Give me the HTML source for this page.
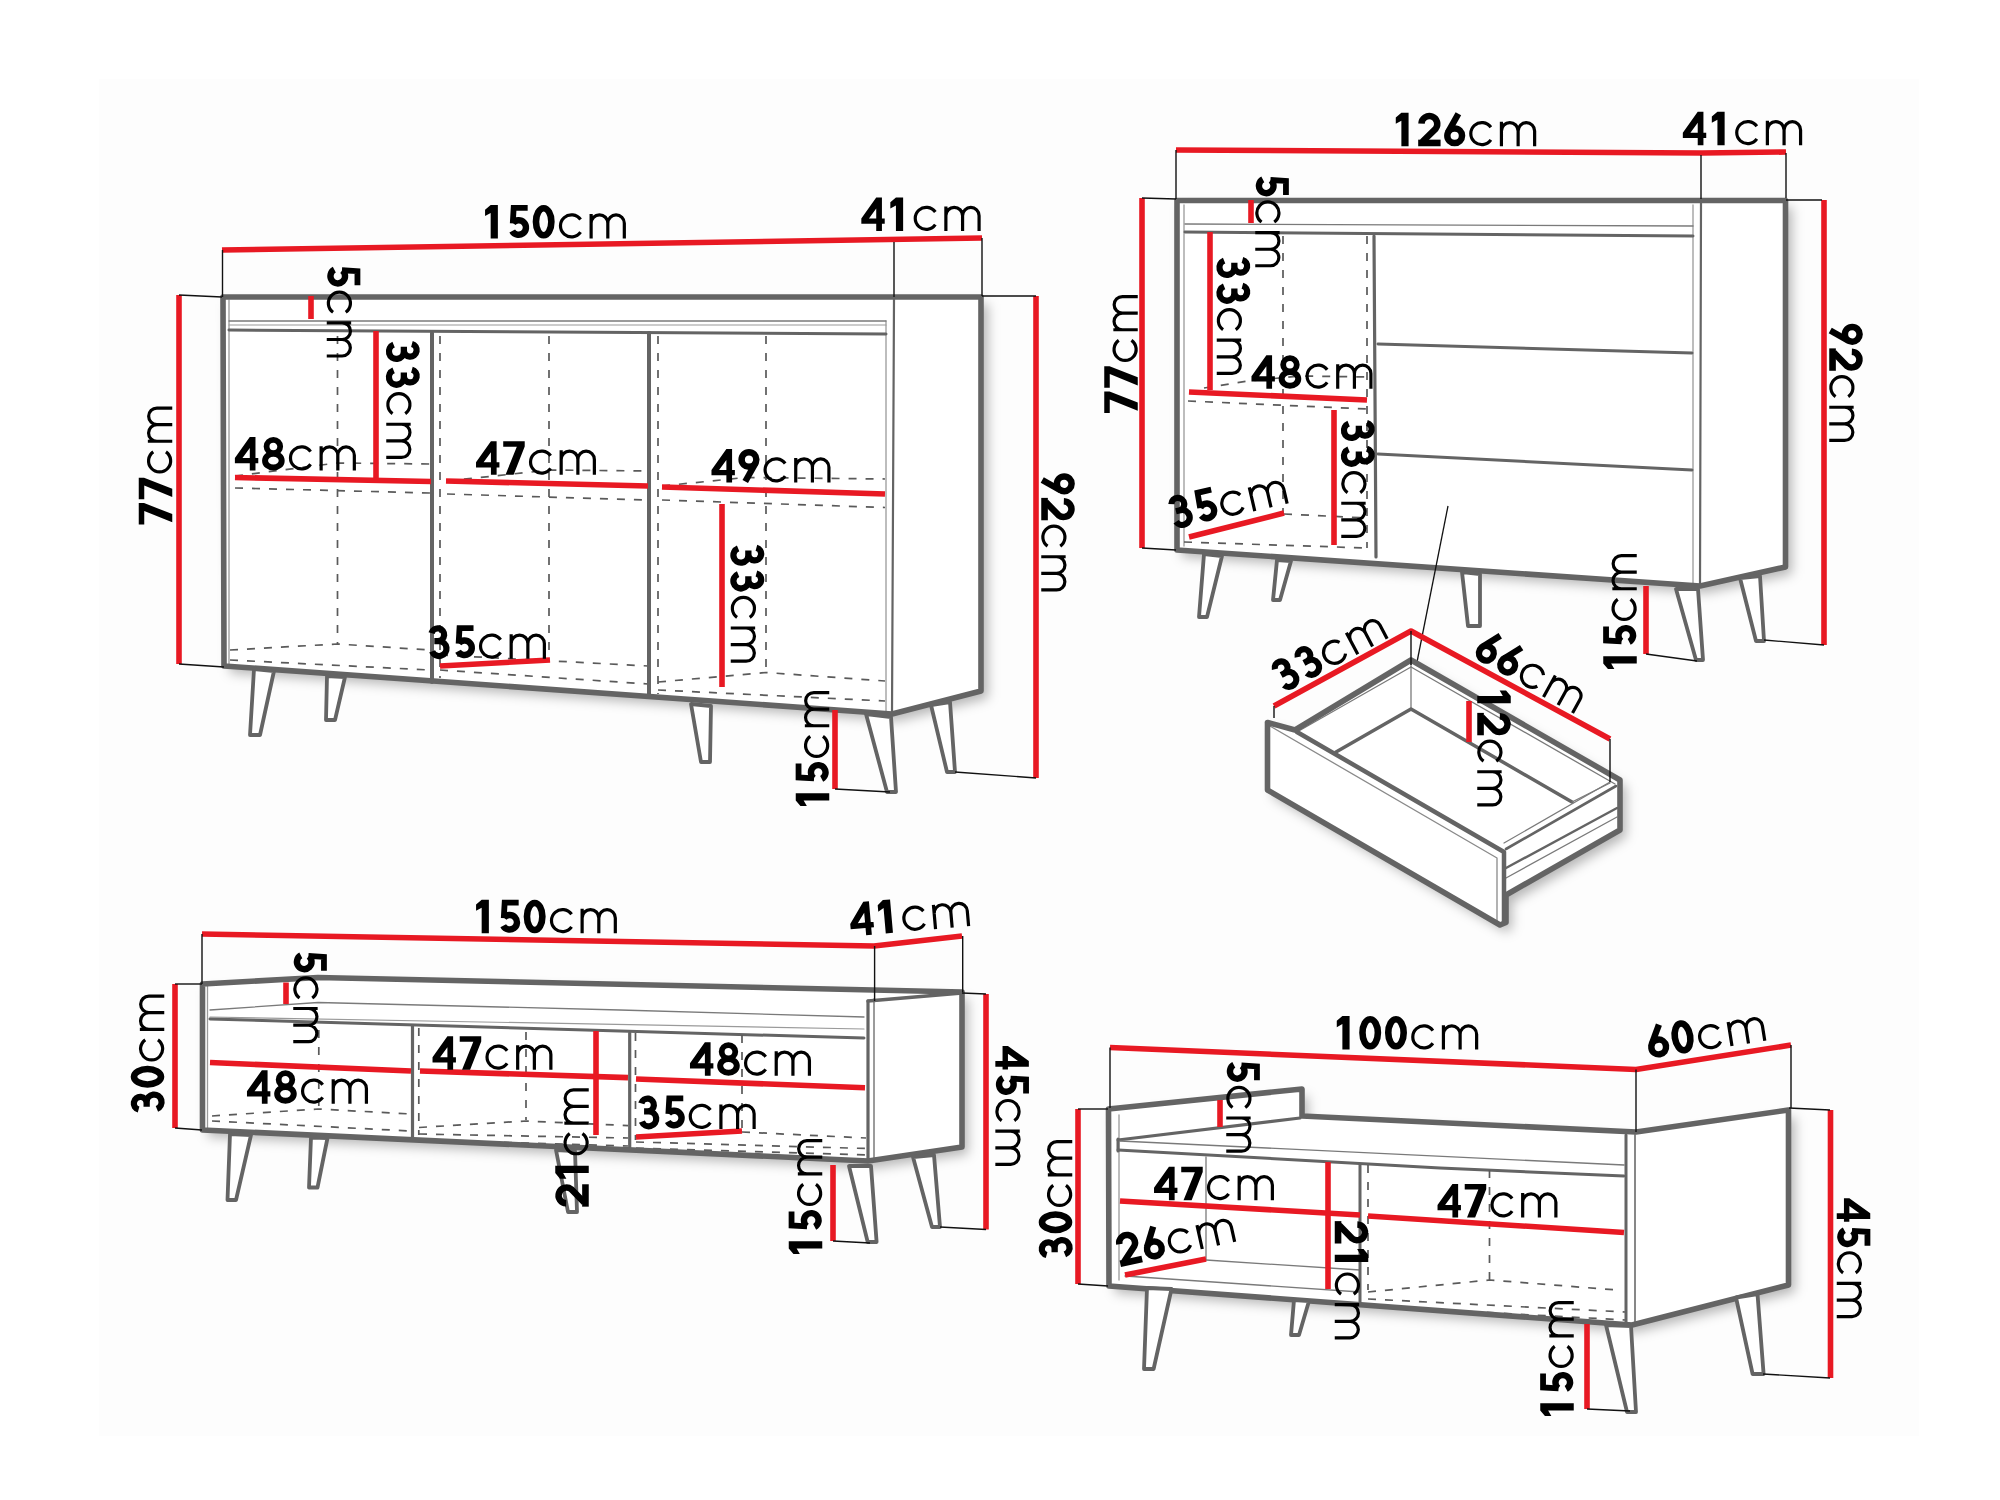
<!DOCTYPE html>
<html><head><meta charset="utf-8"><title>Furniture dimensions</title>
<style>html,body{margin:0;padding:0;background:#fff;width:2000px;height:1500px;overflow:hidden}
svg{display:block;font-family:"Liberation Sans",sans-serif}</style></head>
<body><svg width="2000" height="1500" viewBox="0 0 2000 1500">
<defs><filter id="blur6" x="-10%" y="-10%" width="120%" height="120%"><feGaussianBlur stdDeviation="6"/></filter></defs>
<rect width="2000" height="1500" fill="#fff"/>
<rect x="99" y="79" width="1820" height="1357" fill="#fdfdfd"/>
<polygon points="228.0,304.0 988.0,304.0 988.0,698.0 898.0,721.0 230.0,673.0" fill="#000" fill-opacity="0.28" filter="url(#blur6)"/>
<polygon points="222.0,297.0 982.0,297.0 982.0,691.0 892.0,714.0 224.0,666.0" fill="#fff" stroke="none"/>
<polyline points="229.0,300.0 229.0,666.0" fill="none" stroke="#9a9a9a" stroke-width="1.3" stroke-linecap="round" stroke-linejoin="round"/>
<polyline points="886.0,321.0 886.0,712.0" fill="none" stroke="#9a9a9a" stroke-width="1.3" stroke-linecap="round" stroke-linejoin="round"/>
<polyline points="229.0,321.0 886.0,321.0" fill="none" stroke="#7a7a7a" stroke-width="1.3" stroke-linecap="round" stroke-linejoin="round"/>
<polyline points="229.0,325.0 886.0,325.0" fill="none" stroke="#9a9a9a" stroke-width="1.2" stroke-linecap="round" stroke-linejoin="round"/>
<polyline points="229.0,330.0 886.0,334.0" fill="none" stroke="#646464" stroke-width="3" stroke-linecap="round" stroke-linejoin="round"/>
<polyline points="337.5,336.0 337.5,644.0" fill="none" stroke="#5a5a5a" stroke-width="1.7" stroke-linecap="butt" stroke-linejoin="round" stroke-dasharray="8 9"/>
<polyline points="440.0,336.0 440.0,678.0" fill="none" stroke="#5a5a5a" stroke-width="1.7" stroke-linecap="butt" stroke-linejoin="round" stroke-dasharray="8 9"/>
<polyline points="549.0,336.0 549.0,654.0" fill="none" stroke="#5a5a5a" stroke-width="1.7" stroke-linecap="butt" stroke-linejoin="round" stroke-dasharray="8 9"/>
<polyline points="658.0,336.0 658.0,694.0" fill="none" stroke="#5a5a5a" stroke-width="1.7" stroke-linecap="butt" stroke-linejoin="round" stroke-dasharray="8 9"/>
<polyline points="766.0,336.0 766.0,672.0" fill="none" stroke="#5a5a5a" stroke-width="1.7" stroke-linecap="butt" stroke-linejoin="round" stroke-dasharray="8 9"/>
<polyline points="235.0,488.0 430.0,493.0" fill="none" stroke="#5a5a5a" stroke-width="1.7" stroke-linecap="butt" stroke-linejoin="round" stroke-dasharray="8 9"/>
<polyline points="235.0,476.0 337.0,463.0 430.0,464.0" fill="none" stroke="#5a5a5a" stroke-width="1.7" stroke-linecap="butt" stroke-linejoin="round" stroke-dasharray="8 9"/>
<polyline points="447.0,494.0 648.0,500.0" fill="none" stroke="#5a5a5a" stroke-width="1.7" stroke-linecap="butt" stroke-linejoin="round" stroke-dasharray="8 9"/>
<polyline points="447.0,481.0 550.0,470.0 648.0,471.0" fill="none" stroke="#5a5a5a" stroke-width="1.7" stroke-linecap="butt" stroke-linejoin="round" stroke-dasharray="8 9"/>
<polyline points="662.0,500.0 885.0,507.5" fill="none" stroke="#5a5a5a" stroke-width="1.7" stroke-linecap="butt" stroke-linejoin="round" stroke-dasharray="8 9"/>
<polyline points="662.0,486.0 745.0,477.5 885.0,479.0" fill="none" stroke="#5a5a5a" stroke-width="1.7" stroke-linecap="butt" stroke-linejoin="round" stroke-dasharray="8 9"/>
<polyline points="230.0,650.0 337.5,644.0 430.0,650.0" fill="none" stroke="#5a5a5a" stroke-width="1.7" stroke-linecap="butt" stroke-linejoin="round" stroke-dasharray="8 9"/>
<polyline points="230.0,660.0 430.0,670.0" fill="none" stroke="#5a5a5a" stroke-width="1.7" stroke-linecap="butt" stroke-linejoin="round" stroke-dasharray="8 9"/>
<polyline points="440.0,655.0 648.0,666.0" fill="none" stroke="#5a5a5a" stroke-width="1.7" stroke-linecap="butt" stroke-linejoin="round" stroke-dasharray="8 9"/>
<polyline points="440.0,670.0 648.0,684.0" fill="none" stroke="#5a5a5a" stroke-width="1.7" stroke-linecap="butt" stroke-linejoin="round" stroke-dasharray="8 9"/>
<polyline points="658.0,682.0 766.0,672.5 885.0,681.0" fill="none" stroke="#5a5a5a" stroke-width="1.7" stroke-linecap="butt" stroke-linejoin="round" stroke-dasharray="8 9"/>
<polyline points="658.0,690.0 885.0,701.0" fill="none" stroke="#5a5a5a" stroke-width="1.7" stroke-linecap="butt" stroke-linejoin="round" stroke-dasharray="8 9"/>
<polyline points="432.0,333.0 432.0,682.0" fill="none" stroke="#646464" stroke-width="4" stroke-linecap="round" stroke-linejoin="round"/>
<polyline points="649.0,333.0 649.0,697.0" fill="none" stroke="#646464" stroke-width="4" stroke-linecap="round" stroke-linejoin="round"/>
<polyline points="894.0,299.0 892.0,714.0" fill="none" stroke="#646464" stroke-width="2.2" stroke-linecap="round" stroke-linejoin="round"/>
<polyline points="223.0,297.0 981.0,297.0 981.0,691.0 892.0,714.0 224.0,666.0 223.0,297.0" fill="none" stroke="#646464" stroke-width="5.6" stroke-linecap="round" stroke-linejoin="round"/>
<polyline points="311.0,296.0 311.0,319.0" fill="none" stroke="#e81923" stroke-width="5.6" stroke-linecap="butt" stroke-linejoin="round"/>
<polyline points="376.0,331.0 376.0,478.0" fill="none" stroke="#e81923" stroke-width="5.6" stroke-linecap="butt" stroke-linejoin="round"/>
<polyline points="235.0,477.5 431.0,481.5" fill="none" stroke="#e81923" stroke-width="5.6" stroke-linecap="butt" stroke-linejoin="round"/>
<polyline points="446.0,481.0 648.0,486.0" fill="none" stroke="#e81923" stroke-width="5.6" stroke-linecap="butt" stroke-linejoin="round"/>
<polyline points="662.0,487.0 885.0,494.0" fill="none" stroke="#e81923" stroke-width="5.6" stroke-linecap="butt" stroke-linejoin="round"/>
<polyline points="722.0,504.0 722.0,687.0" fill="none" stroke="#e81923" stroke-width="5.6" stroke-linecap="butt" stroke-linejoin="round"/>
<polyline points="440.0,666.0 550.0,660.0" fill="none" stroke="#e81923" stroke-width="5.6" stroke-linecap="butt" stroke-linejoin="round"/>
<polygon points="254.0,669.0 274.0,671.0 260.0,735.0 250.0,735.0" fill="#fff" stroke="#646464" stroke-width="3.8" stroke-linejoin="round"/>
<polygon points="327.0,676.0 345.0,677.0 335.0,720.0 326.0,720.0" fill="#fff" stroke="#646464" stroke-width="3.8" stroke-linejoin="round"/>
<polygon points="691.0,704.0 711.0,706.0 710.0,762.0 701.0,762.0" fill="#fff" stroke="#646464" stroke-width="3.8" stroke-linejoin="round"/>
<polygon points="866.0,714.0 891.0,717.0 896.0,792.0 887.0,792.0" fill="#fff" stroke="#646464" stroke-width="3.8" stroke-linejoin="round"/>
<polygon points="931.0,705.0 950.0,702.0 955.0,772.0 947.0,772.0" fill="#fff" stroke="#646464" stroke-width="3.8" stroke-linejoin="round"/>
<polyline points="222.0,250.0 982.0,238.0" fill="none" stroke="#e81923" stroke-width="5.6" stroke-linecap="butt" stroke-linejoin="round"/>
<polyline points="222.5,250.0 222.5,297.0" fill="none" stroke="#111" stroke-width="1.4" stroke-linecap="butt" stroke-linejoin="round"/>
<polyline points="894.0,242.0 894.0,297.0" fill="none" stroke="#111" stroke-width="1.4" stroke-linecap="butt" stroke-linejoin="round"/>
<polyline points="982.0,238.0 982.0,296.0" fill="none" stroke="#111" stroke-width="1.4" stroke-linecap="butt" stroke-linejoin="round"/>
<polyline points="179.0,295.0 179.0,664.0" fill="none" stroke="#e81923" stroke-width="5.6" stroke-linecap="butt" stroke-linejoin="round"/>
<polyline points="179.0,295.0 222.0,297.0" fill="none" stroke="#111" stroke-width="1.4" stroke-linecap="butt" stroke-linejoin="round"/>
<polyline points="179.0,664.0 224.0,667.0" fill="none" stroke="#111" stroke-width="1.4" stroke-linecap="butt" stroke-linejoin="round"/>
<polyline points="1036.0,296.0 1036.0,778.0" fill="none" stroke="#e81923" stroke-width="5.6" stroke-linecap="butt" stroke-linejoin="round"/>
<polyline points="982.0,296.0 1036.0,296.0" fill="none" stroke="#111" stroke-width="1.4" stroke-linecap="butt" stroke-linejoin="round"/>
<polyline points="955.0,772.0 1036.0,778.0" fill="none" stroke="#111" stroke-width="1.4" stroke-linecap="butt" stroke-linejoin="round"/>
<polyline points="835.0,710.0 835.0,789.0" fill="none" stroke="#e81923" stroke-width="5.6" stroke-linecap="butt" stroke-linejoin="round"/>
<polyline points="835.0,789.0 890.0,792.0" fill="none" stroke="#111" stroke-width="1.4" stroke-linecap="butt" stroke-linejoin="round"/>
<g role="img" aria-label="150 cm" transform="translate(485.07 238.50) rotate(0)"><title>150cm</title><path transform="translate(0.00 0)" d="M0,-28.8 L5.6,-33.5 H12.8 V0 H5.6 V-25.6 L0,-22.4 Z" fill="#000" fill-rule="evenodd"/><path transform="translate(22.40 0)" d="M20.2,-30.7 H6.2 L5.3,-15.2" fill="none" stroke="#000" stroke-width="5.8"/><path transform="translate(22.40 0)" d="M5.45,-15.49 A7.3,7.3 0 1 1 4.75,-7.57" fill="none" stroke="#000" stroke-width="6.4"/><path transform="translate(47.60 0)" d="M11,-3.25 A7.7,13.5 0 1 1 11,-30.25 A7.7,13.5 0 1 1 11,-3.25 Z" fill="none" stroke="#000" stroke-width="6.6"/><path transform="translate(73.80 0)" d="M21.70,-18.99 A11.05,11.05 0 1 0 21.70,-6.31 M32.25,0 V-24.4 M32.25,-15.35 A8.35,8.35 0 0 1 48.95,-15.35 V0 M48.95,-15.35 A8.25,8.25 0 0 1 65.45,-15.35 V0" fill="none" stroke="#000" stroke-width="3.2"/></g>
<g role="img" aria-label="41 cm" transform="translate(861.33 231.00) rotate(0)"><title>41cm</title><path transform="translate(0.00 0)" d="M14.9,-33.5 H20.6 V-12.6 H23.4 V-7.2 H20.6 V0 H14.9 V-7.2 H0 V-12.6 Z M14.9,-22.6 L7.6,-12.6 H14.9 Z" fill="#000" fill-rule="evenodd"/><path transform="translate(29.00 0)" d="M0,-28.8 L5.6,-33.5 H12.8 V0 H5.6 V-25.6 L0,-22.4 Z" fill="#000" fill-rule="evenodd"/><path transform="translate(52.30 0)" d="M21.70,-18.99 A11.05,11.05 0 1 0 21.70,-6.31 M32.25,0 V-24.4 M32.25,-15.35 A8.35,8.35 0 0 1 48.95,-15.35 V0 M48.95,-15.35 A8.25,8.25 0 0 1 65.45,-15.35 V0" fill="none" stroke="#000" stroke-width="3.2"/></g>
<g role="img" aria-label="5 cm" transform="translate(326.75 264.93) rotate(90)"><title>5cm</title><path transform="translate(0.00 0)" d="M20.2,-30.7 H6.2 L5.3,-15.2" fill="none" stroke="#000" stroke-width="5.8"/><path transform="translate(0.00 0)" d="M5.45,-15.49 A7.3,7.3 0 1 1 4.75,-7.57" fill="none" stroke="#000" stroke-width="6.4"/><path transform="translate(25.60 0)" d="M21.70,-18.99 A11.05,11.05 0 1 0 21.70,-6.31 M32.25,0 V-24.4 M32.25,-15.35 A8.35,8.35 0 0 1 48.95,-15.35 V0 M48.95,-15.35 A8.25,8.25 0 0 1 65.45,-15.35 V0" fill="none" stroke="#000" stroke-width="3.2"/></g>
<g role="img" aria-label="33 cm" transform="translate(386.25 339.98) rotate(90)"><title>33cm</title><path transform="translate(0.00 0)" d="M4.02,-25.66 A6.4,6.4 0 1 1 10.20,-17.60 H6.8 M10.20,-17.60 H11.5 A7.45,7.45 0 1 1 4.59,-7.36" fill="none" stroke="#000" stroke-width="6.3"/><path transform="translate(25.80 0)" d="M4.02,-25.66 A6.4,6.4 0 1 1 10.20,-17.60 H6.8 M10.20,-17.60 H11.5 A7.45,7.45 0 1 1 4.59,-7.36" fill="none" stroke="#000" stroke-width="6.3"/><path transform="translate(52.00 0)" d="M21.70,-18.99 A11.05,11.05 0 1 0 21.70,-6.31 M32.25,0 V-24.4 M32.25,-15.35 A8.35,8.35 0 0 1 48.95,-15.35 V0 M48.95,-15.35 A8.25,8.25 0 0 1 65.45,-15.35 V0" fill="none" stroke="#000" stroke-width="3.2"/></g>
<g role="img" aria-label="48 cm" transform="translate(234.88 470.55) rotate(0)"><title>48cm</title><path transform="translate(0.00 0)" d="M14.9,-33.5 H20.6 V-12.6 H23.4 V-7.2 H20.6 V0 H14.9 V-7.2 H0 V-12.6 Z M14.9,-22.6 L7.6,-12.6 H14.9 Z" fill="#000" fill-rule="evenodd"/><path transform="translate(27.20 0)" d="M11.3,-30.6 A6.8,6.6 0 1 1 11.3,-17.4 A6.8,6.6 0 1 1 11.3,-30.6 Z" fill="none" stroke="#000" stroke-width="5.8"/><path transform="translate(27.20 0)" d="M11.3,-16.8 A8.3,6.9 0 1 1 11.3,-3.0 A8.3,6.9 0 1 1 11.3,-16.8 Z" fill="none" stroke="#000" stroke-width="6.0"/><path transform="translate(54.00 0)" d="M21.70,-18.99 A11.05,11.05 0 1 0 21.70,-6.31 M32.25,0 V-24.4 M32.25,-15.35 A8.35,8.35 0 0 1 48.95,-15.35 V0 M48.95,-15.35 A8.25,8.25 0 0 1 65.45,-15.35 V0" fill="none" stroke="#000" stroke-width="3.2"/></g>
<g role="img" aria-label="47 cm" transform="translate(476.02 474.75) rotate(0)"><title>47cm</title><path transform="translate(0.00 0)" d="M14.9,-33.5 H20.6 V-12.6 H23.4 V-7.2 H20.6 V0 H14.9 V-7.2 H0 V-12.6 Z M14.9,-22.6 L7.6,-12.6 H14.9 Z" fill="#000" fill-rule="evenodd"/><path transform="translate(27.20 0)" d="M0,-33.5 H21.5 V-28.2 L10.4,0 H2.3 L13.6,-28.0 H0 Z" fill="#000" fill-rule="evenodd"/><path transform="translate(52.90 0)" d="M21.70,-18.99 A11.05,11.05 0 1 0 21.70,-6.31 M32.25,0 V-24.4 M32.25,-15.35 A8.35,8.35 0 0 1 48.95,-15.35 V0 M48.95,-15.35 A8.25,8.25 0 0 1 65.45,-15.35 V0" fill="none" stroke="#000" stroke-width="3.2"/></g>
<g role="img" aria-label="49 cm" transform="translate(711.48 482.50) rotate(0)"><title>49cm</title><path transform="translate(0.00 0)" d="M14.9,-33.5 H20.6 V-12.6 H23.4 V-7.2 H20.6 V0 H14.9 V-7.2 H0 V-12.6 Z M14.9,-22.6 L7.6,-12.6 H14.9 Z" fill="#000" fill-rule="evenodd"/><path transform="translate(27.20 0)" d="M10.3,-30.35 A7.35,7.35 0 1 1 10.3,-15.65 A7.35,7.35 0 1 1 10.3,-30.35 Z" fill="none" stroke="#000" stroke-width="6.5"/><path transform="translate(27.20 0)" d="M17.0,-19.6 L6.6,-1.0" fill="none" stroke="#000" stroke-width="6.3"/><path transform="translate(52.00 0)" d="M21.70,-18.99 A11.05,11.05 0 1 0 21.70,-6.31 M32.25,0 V-24.4 M32.25,-15.35 A8.35,8.35 0 0 1 48.95,-15.35 V0 M48.95,-15.35 A8.25,8.25 0 0 1 65.45,-15.35 V0" fill="none" stroke="#000" stroke-width="3.2"/></g>
<g role="img" aria-label="35 cm" transform="translate(427.52 658.75) rotate(0)"><title>35cm</title><path transform="translate(0.00 0)" d="M4.02,-25.66 A6.4,6.4 0 1 1 10.20,-17.60 H6.8 M10.20,-17.60 H11.5 A7.45,7.45 0 1 1 4.59,-7.36" fill="none" stroke="#000" stroke-width="6.3"/><path transform="translate(25.80 0)" d="M20.2,-30.7 H6.2 L5.3,-15.2" fill="none" stroke="#000" stroke-width="5.8"/><path transform="translate(25.80 0)" d="M5.45,-15.49 A7.3,7.3 0 1 1 4.75,-7.57" fill="none" stroke="#000" stroke-width="6.4"/><path transform="translate(51.40 0)" d="M21.70,-18.99 A11.05,11.05 0 1 0 21.70,-6.31 M32.25,0 V-24.4 M32.25,-15.35 A8.35,8.35 0 0 1 48.95,-15.35 V0 M48.95,-15.35 A8.25,8.25 0 0 1 65.45,-15.35 V0" fill="none" stroke="#000" stroke-width="3.2"/></g>
<g role="img" aria-label="33 cm" transform="translate(730.75 543.73) rotate(90)"><title>33cm</title><path transform="translate(0.00 0)" d="M4.02,-25.66 A6.4,6.4 0 1 1 10.20,-17.60 H6.8 M10.20,-17.60 H11.5 A7.45,7.45 0 1 1 4.59,-7.36" fill="none" stroke="#000" stroke-width="6.3"/><path transform="translate(25.80 0)" d="M4.02,-25.66 A6.4,6.4 0 1 1 10.20,-17.60 H6.8 M10.20,-17.60 H11.5 A7.45,7.45 0 1 1 4.59,-7.36" fill="none" stroke="#000" stroke-width="6.3"/><path transform="translate(52.00 0)" d="M21.70,-18.99 A11.05,11.05 0 1 0 21.70,-6.31 M32.25,0 V-24.4 M32.25,-15.35 A8.35,8.35 0 0 1 48.95,-15.35 V0 M48.95,-15.35 A8.25,8.25 0 0 1 65.45,-15.35 V0" fill="none" stroke="#000" stroke-width="3.2"/></g>
<g role="img" aria-label="92 cm" transform="translate(1041.25 473.48) rotate(90)"><title>92cm</title><path transform="translate(0.00 0)" d="M10.3,-30.35 A7.35,7.35 0 1 1 10.3,-15.65 A7.35,7.35 0 1 1 10.3,-30.35 Z" fill="none" stroke="#000" stroke-width="6.5"/><path transform="translate(0.00 0)" d="M17.0,-19.6 L6.6,-1.0" fill="none" stroke="#000" stroke-width="6.3"/><path transform="translate(24.40 0)" d="M3.30,-22.58 A7.9,7.9 0 1 1 17.43,-17.44 L4.2,-4.5" fill="none" stroke="#000" stroke-width="6.5"/><path transform="translate(24.40 0)" d="M0,-6.6 H22.4 V0 H0 Z" fill="#000" fill-rule="evenodd"/><path transform="translate(51.00 0)" d="M21.70,-18.99 A11.05,11.05 0 1 0 21.70,-6.31 M32.25,0 V-24.4 M32.25,-15.35 A8.35,8.35 0 0 1 48.95,-15.35 V0 M48.95,-15.35 A8.25,8.25 0 0 1 65.45,-15.35 V0" fill="none" stroke="#000" stroke-width="3.2"/></g>
<g role="img" aria-label="15 cm" transform="translate(829.25 806.02) rotate(-90)"><title>15cm</title><path transform="translate(0.00 0)" d="M0,-28.8 L5.6,-33.5 H12.8 V0 H5.6 V-25.6 L0,-22.4 Z" fill="#000" fill-rule="evenodd"/><path transform="translate(22.40 0)" d="M20.2,-30.7 H6.2 L5.3,-15.2" fill="none" stroke="#000" stroke-width="5.8"/><path transform="translate(22.40 0)" d="M5.45,-15.49 A7.3,7.3 0 1 1 4.75,-7.57" fill="none" stroke="#000" stroke-width="6.4"/><path transform="translate(48.00 0)" d="M21.70,-18.99 A11.05,11.05 0 1 0 21.70,-6.31 M32.25,0 V-24.4 M32.25,-15.35 A8.35,8.35 0 0 1 48.95,-15.35 V0 M48.95,-15.35 A8.25,8.25 0 0 1 65.45,-15.35 V0" fill="none" stroke="#000" stroke-width="3.2"/></g>
<g role="img" aria-label="77 cm" transform="translate(172.25 524.52) rotate(-90)"><title>77cm</title><path transform="translate(0.00 0)" d="M0,-33.5 H21.5 V-28.2 L10.4,0 H2.3 L13.6,-28.0 H0 Z" fill="#000" fill-rule="evenodd"/><path transform="translate(25.30 0)" d="M0,-33.5 H21.5 V-28.2 L10.4,0 H2.3 L13.6,-28.0 H0 Z" fill="#000" fill-rule="evenodd"/><path transform="translate(51.00 0)" d="M21.70,-18.99 A11.05,11.05 0 1 0 21.70,-6.31 M32.25,0 V-24.4 M32.25,-15.35 A8.35,8.35 0 0 1 48.95,-15.35 V0 M48.95,-15.35 A8.25,8.25 0 0 1 65.45,-15.35 V0" fill="none" stroke="#000" stroke-width="3.2"/></g>
<polygon points="1182.0,207.0 1792.0,207.0 1792.0,574.0 1706.0,593.0 1182.0,557.0" fill="#000" fill-opacity="0.28" filter="url(#blur6)"/>
<polygon points="1176.0,200.0 1786.0,200.0 1786.0,567.0 1700.0,586.0 1176.0,550.0" fill="#fff" stroke="none"/>
<polyline points="1693.0,205.0 1693.0,585.0" fill="none" stroke="#9a9a9a" stroke-width="1.3" stroke-linecap="round" stroke-linejoin="round"/>
<polyline points="1184.0,205.0 1184.0,546.0" fill="none" stroke="#9a9a9a" stroke-width="1.3" stroke-linecap="round" stroke-linejoin="round"/>
<polyline points="1185.0,224.0 1693.0,226.0" fill="none" stroke="#7a7a7a" stroke-width="1.4" stroke-linecap="round" stroke-linejoin="round"/>
<polyline points="1185.0,232.0 1693.0,236.0" fill="none" stroke="#646464" stroke-width="3" stroke-linecap="round" stroke-linejoin="round"/>
<polyline points="1283.0,236.0 1283.0,514.0" fill="none" stroke="#5a5a5a" stroke-width="1.7" stroke-linecap="butt" stroke-linejoin="round" stroke-dasharray="8 9"/>
<polyline points="1367.0,236.0 1367.0,548.0" fill="none" stroke="#5a5a5a" stroke-width="1.7" stroke-linecap="butt" stroke-linejoin="round" stroke-dasharray="8 9"/>
<polyline points="1188.0,401.0 1367.0,409.0" fill="none" stroke="#5a5a5a" stroke-width="1.7" stroke-linecap="butt" stroke-linejoin="round" stroke-dasharray="8 9"/>
<polyline points="1204.0,388.0 1248.0,381.0 1300.0,376.0 1367.0,377.0" fill="none" stroke="#5a5a5a" stroke-width="1.7" stroke-linecap="butt" stroke-linejoin="round" stroke-dasharray="8 9"/>
<polyline points="1284.0,514.0 1367.0,518.0" fill="none" stroke="#5a5a5a" stroke-width="1.7" stroke-linecap="butt" stroke-linejoin="round" stroke-dasharray="8 9"/>
<polyline points="1184.0,542.0 1367.0,548.0" fill="none" stroke="#5a5a5a" stroke-width="1.7" stroke-linecap="butt" stroke-linejoin="round" stroke-dasharray="8 9"/>
<polyline points="1374.0,236.0 1376.0,557.0" fill="none" stroke="#646464" stroke-width="3.2" stroke-linecap="round" stroke-linejoin="round"/>
<polyline points="1378.0,344.0 1692.0,353.0" fill="none" stroke="#646464" stroke-width="3" stroke-linecap="round" stroke-linejoin="round"/>
<polyline points="1378.0,454.0 1692.0,470.0" fill="none" stroke="#646464" stroke-width="3" stroke-linecap="round" stroke-linejoin="round"/>
<polyline points="1701.0,203.0 1700.0,586.0" fill="none" stroke="#646464" stroke-width="2.2" stroke-linecap="round" stroke-linejoin="round"/>
<polyline points="1177.0,200.5 1785.5,200.5 1785.5,567.0 1700.0,586.0 1177.0,550.0 1177.0,200.5" fill="none" stroke="#646464" stroke-width="5.6" stroke-linecap="round" stroke-linejoin="round"/>
<polyline points="1251.0,200.0 1251.0,223.0" fill="none" stroke="#e81923" stroke-width="5.6" stroke-linecap="butt" stroke-linejoin="round"/>
<polyline points="1210.0,232.0 1210.0,390.0" fill="none" stroke="#e81923" stroke-width="5.6" stroke-linecap="butt" stroke-linejoin="round"/>
<polyline points="1189.0,392.0 1367.0,400.0" fill="none" stroke="#e81923" stroke-width="5.6" stroke-linecap="butt" stroke-linejoin="round"/>
<polyline points="1334.0,410.0 1334.0,545.0" fill="none" stroke="#e81923" stroke-width="5.6" stroke-linecap="butt" stroke-linejoin="round"/>
<polyline points="1189.0,537.0 1284.0,513.0" fill="none" stroke="#e81923" stroke-width="5.6" stroke-linecap="butt" stroke-linejoin="round"/>
<polygon points="1204.0,554.0 1222.0,556.0 1207.0,617.0 1199.0,617.0" fill="#fff" stroke="#646464" stroke-width="3.8" stroke-linejoin="round"/>
<polygon points="1277.0,560.0 1291.0,561.0 1280.0,600.0 1273.0,600.0" fill="#fff" stroke="#646464" stroke-width="3.8" stroke-linejoin="round"/>
<polygon points="1462.0,572.0 1480.0,574.0 1480.0,626.0 1468.0,626.0" fill="#fff" stroke="#646464" stroke-width="3.8" stroke-linejoin="round"/>
<polygon points="1676.0,589.0 1698.0,589.0 1703.0,660.0 1696.0,660.0" fill="#fff" stroke="#646464" stroke-width="3.8" stroke-linejoin="round"/>
<polygon points="1740.0,578.0 1760.0,576.0 1764.0,641.0 1756.0,641.0" fill="#fff" stroke="#646464" stroke-width="3.8" stroke-linejoin="round"/>
<polyline points="1176.0,150.0 1702.0,153.0 1786.0,152.0" fill="none" stroke="#e81923" stroke-width="5.6" stroke-linecap="butt" stroke-linejoin="round"/>
<polyline points="1176.0,150.0 1176.0,199.0" fill="none" stroke="#111" stroke-width="1.4" stroke-linecap="butt" stroke-linejoin="round"/>
<polyline points="1701.0,155.0 1701.0,199.0" fill="none" stroke="#111" stroke-width="1.4" stroke-linecap="butt" stroke-linejoin="round"/>
<polyline points="1786.0,153.0 1786.0,198.0" fill="none" stroke="#111" stroke-width="1.4" stroke-linecap="butt" stroke-linejoin="round"/>
<polyline points="1142.0,198.0 1142.0,548.0" fill="none" stroke="#e81923" stroke-width="5.6" stroke-linecap="butt" stroke-linejoin="round"/>
<polyline points="1142.0,198.0 1176.0,199.0" fill="none" stroke="#111" stroke-width="1.4" stroke-linecap="butt" stroke-linejoin="round"/>
<polyline points="1142.0,548.0 1176.0,550.0" fill="none" stroke="#111" stroke-width="1.4" stroke-linecap="butt" stroke-linejoin="round"/>
<polyline points="1824.0,200.0 1824.0,645.0" fill="none" stroke="#e81923" stroke-width="5.6" stroke-linecap="butt" stroke-linejoin="round"/>
<polyline points="1786.0,200.0 1822.0,200.0" fill="none" stroke="#111" stroke-width="1.4" stroke-linecap="butt" stroke-linejoin="round"/>
<polyline points="1764.0,640.0 1824.0,645.0" fill="none" stroke="#111" stroke-width="1.4" stroke-linecap="butt" stroke-linejoin="round"/>
<polyline points="1646.0,586.0 1646.0,654.0" fill="none" stroke="#e81923" stroke-width="5.6" stroke-linecap="butt" stroke-linejoin="round"/>
<polyline points="1646.0,654.0 1697.0,661.0" fill="none" stroke="#111" stroke-width="1.4" stroke-linecap="butt" stroke-linejoin="round"/>
<polyline points="1448.0,506.0 1417.0,662.0" fill="none" stroke="#111" stroke-width="1.3" stroke-linecap="butt" stroke-linejoin="round"/>
<g role="img" aria-label="126 cm" transform="translate(1395.78 146.25) rotate(0)"><title>126cm</title><path transform="translate(0.00 0)" d="M0,-28.8 L5.6,-33.5 H12.8 V0 H5.6 V-25.6 L0,-22.4 Z" fill="#000" fill-rule="evenodd"/><path transform="translate(22.40 0)" d="M3.30,-22.58 A7.9,7.9 0 1 1 17.43,-17.44 L4.2,-4.5" fill="none" stroke="#000" stroke-width="6.5"/><path transform="translate(22.40 0)" d="M0,-6.6 H22.4 V0 H0 Z" fill="#000" fill-rule="evenodd"/><path transform="translate(48.60 0)" d="M10.3,-3.15 A7.35,7.35 0 1 1 10.3,-17.85 A7.35,7.35 0 1 1 10.3,-3.15 Z" fill="none" stroke="#000" stroke-width="6.5"/><path transform="translate(48.60 0)" d="M3.6,-13.9 L14.0,-32.5" fill="none" stroke="#000" stroke-width="6.3"/><path transform="translate(73.40 0)" d="M21.70,-18.99 A11.05,11.05 0 1 0 21.70,-6.31 M32.25,0 V-24.4 M32.25,-15.35 A8.35,8.35 0 0 1 48.95,-15.35 V0 M48.95,-15.35 A8.25,8.25 0 0 1 65.45,-15.35 V0" fill="none" stroke="#000" stroke-width="3.2"/></g>
<g role="img" aria-label="41 cm" transform="translate(1682.83 145.25) rotate(0)"><title>41cm</title><path transform="translate(0.00 0)" d="M14.9,-33.5 H20.6 V-12.6 H23.4 V-7.2 H20.6 V0 H14.9 V-7.2 H0 V-12.6 Z M14.9,-22.6 L7.6,-12.6 H14.9 Z" fill="#000" fill-rule="evenodd"/><path transform="translate(29.00 0)" d="M0,-28.8 L5.6,-33.5 H12.8 V0 H5.6 V-25.6 L0,-22.4 Z" fill="#000" fill-rule="evenodd"/><path transform="translate(52.30 0)" d="M21.70,-18.99 A11.05,11.05 0 1 0 21.70,-6.31 M32.25,0 V-24.4 M32.25,-15.35 A8.35,8.35 0 0 1 48.95,-15.35 V0 M48.95,-15.35 A8.25,8.25 0 0 1 65.45,-15.35 V0" fill="none" stroke="#000" stroke-width="3.2"/></g>
<g role="img" aria-label="5 cm" transform="translate(1255.25 174.68) rotate(90)"><title>5cm</title><path transform="translate(0.00 0)" d="M20.2,-30.7 H6.2 L5.3,-15.2" fill="none" stroke="#000" stroke-width="5.8"/><path transform="translate(0.00 0)" d="M5.45,-15.49 A7.3,7.3 0 1 1 4.75,-7.57" fill="none" stroke="#000" stroke-width="6.4"/><path transform="translate(25.60 0)" d="M21.70,-18.99 A11.05,11.05 0 1 0 21.70,-6.31 M32.25,0 V-24.4 M32.25,-15.35 A8.35,8.35 0 0 1 48.95,-15.35 V0 M48.95,-15.35 A8.25,8.25 0 0 1 65.45,-15.35 V0" fill="none" stroke="#000" stroke-width="3.2"/></g>
<g role="img" aria-label="33 cm" transform="translate(1216.75 255.97) rotate(90)"><title>33cm</title><path transform="translate(0.00 0)" d="M4.02,-25.66 A6.4,6.4 0 1 1 10.20,-17.60 H6.8 M10.20,-17.60 H11.5 A7.45,7.45 0 1 1 4.59,-7.36" fill="none" stroke="#000" stroke-width="6.3"/><path transform="translate(25.80 0)" d="M4.02,-25.66 A6.4,6.4 0 1 1 10.20,-17.60 H6.8 M10.20,-17.60 H11.5 A7.45,7.45 0 1 1 4.59,-7.36" fill="none" stroke="#000" stroke-width="6.3"/><path transform="translate(52.00 0)" d="M21.70,-18.99 A11.05,11.05 0 1 0 21.70,-6.31 M32.25,0 V-24.4 M32.25,-15.35 A8.35,8.35 0 0 1 48.95,-15.35 V0 M48.95,-15.35 A8.25,8.25 0 0 1 65.45,-15.35 V0" fill="none" stroke="#000" stroke-width="3.2"/></g>
<g role="img" aria-label="48 cm" transform="translate(1251.47 388.75) rotate(0)"><title>48cm</title><path transform="translate(0.00 0)" d="M14.9,-33.5 H20.6 V-12.6 H23.4 V-7.2 H20.6 V0 H14.9 V-7.2 H0 V-12.6 Z M14.9,-22.6 L7.6,-12.6 H14.9 Z" fill="#000" fill-rule="evenodd"/><path transform="translate(27.20 0)" d="M11.3,-30.6 A6.8,6.6 0 1 1 11.3,-17.4 A6.8,6.6 0 1 1 11.3,-30.6 Z" fill="none" stroke="#000" stroke-width="5.8"/><path transform="translate(27.20 0)" d="M11.3,-16.8 A8.3,6.9 0 1 1 11.3,-3.0 A8.3,6.9 0 1 1 11.3,-16.8 Z" fill="none" stroke="#000" stroke-width="6.0"/><path transform="translate(54.00 0)" d="M21.70,-18.99 A11.05,11.05 0 1 0 21.70,-6.31 M32.25,0 V-24.4 M32.25,-15.35 A8.35,8.35 0 0 1 48.95,-15.35 V0 M48.95,-15.35 A8.25,8.25 0 0 1 65.45,-15.35 V0" fill="none" stroke="#000" stroke-width="3.2"/></g>
<g role="img" aria-label="33 cm" transform="translate(1341.25 418.98) rotate(90)"><title>33cm</title><path transform="translate(0.00 0)" d="M4.02,-25.66 A6.4,6.4 0 1 1 10.20,-17.60 H6.8 M10.20,-17.60 H11.5 A7.45,7.45 0 1 1 4.59,-7.36" fill="none" stroke="#000" stroke-width="6.3"/><path transform="translate(25.80 0)" d="M4.02,-25.66 A6.4,6.4 0 1 1 10.20,-17.60 H6.8 M10.20,-17.60 H11.5 A7.45,7.45 0 1 1 4.59,-7.36" fill="none" stroke="#000" stroke-width="6.3"/><path transform="translate(52.00 0)" d="M21.70,-18.99 A11.05,11.05 0 1 0 21.70,-6.31 M32.25,0 V-24.4 M32.25,-15.35 A8.35,8.35 0 0 1 48.95,-15.35 V0 M48.95,-15.35 A8.25,8.25 0 0 1 65.45,-15.35 V0" fill="none" stroke="#000" stroke-width="3.2"/></g>
<g role="img" aria-label="35 cm" transform="translate(1173.27 529.94) rotate(-13)"><title>35cm</title><path transform="translate(0.00 0)" d="M4.02,-25.66 A6.4,6.4 0 1 1 10.20,-17.60 H6.8 M10.20,-17.60 H11.5 A7.45,7.45 0 1 1 4.59,-7.36" fill="none" stroke="#000" stroke-width="6.3"/><path transform="translate(25.80 0)" d="M20.2,-30.7 H6.2 L5.3,-15.2" fill="none" stroke="#000" stroke-width="5.8"/><path transform="translate(25.80 0)" d="M5.45,-15.49 A7.3,7.3 0 1 1 4.75,-7.57" fill="none" stroke="#000" stroke-width="6.4"/><path transform="translate(51.40 0)" d="M21.70,-18.99 A11.05,11.05 0 1 0 21.70,-6.31 M32.25,0 V-24.4 M32.25,-15.35 A8.35,8.35 0 0 1 48.95,-15.35 V0 M48.95,-15.35 A8.25,8.25 0 0 1 65.45,-15.35 V0" fill="none" stroke="#000" stroke-width="3.2"/></g>
<g role="img" aria-label="77 cm" transform="translate(1137.75 413.02) rotate(-90)"><title>77cm</title><path transform="translate(0.00 0)" d="M0,-33.5 H21.5 V-28.2 L10.4,0 H2.3 L13.6,-28.0 H0 Z" fill="#000" fill-rule="evenodd"/><path transform="translate(25.30 0)" d="M0,-33.5 H21.5 V-28.2 L10.4,0 H2.3 L13.6,-28.0 H0 Z" fill="#000" fill-rule="evenodd"/><path transform="translate(51.00 0)" d="M21.70,-18.99 A11.05,11.05 0 1 0 21.70,-6.31 M32.25,0 V-24.4 M32.25,-15.35 A8.35,8.35 0 0 1 48.95,-15.35 V0 M48.95,-15.35 A8.25,8.25 0 0 1 65.45,-15.35 V0" fill="none" stroke="#000" stroke-width="3.2"/></g>
<g role="img" aria-label="92 cm" transform="translate(1829.25 323.98) rotate(90)"><title>92cm</title><path transform="translate(0.00 0)" d="M10.3,-30.35 A7.35,7.35 0 1 1 10.3,-15.65 A7.35,7.35 0 1 1 10.3,-30.35 Z" fill="none" stroke="#000" stroke-width="6.5"/><path transform="translate(0.00 0)" d="M17.0,-19.6 L6.6,-1.0" fill="none" stroke="#000" stroke-width="6.3"/><path transform="translate(24.40 0)" d="M3.30,-22.58 A7.9,7.9 0 1 1 17.43,-17.44 L4.2,-4.5" fill="none" stroke="#000" stroke-width="6.5"/><path transform="translate(24.40 0)" d="M0,-6.6 H22.4 V0 H0 Z" fill="#000" fill-rule="evenodd"/><path transform="translate(51.00 0)" d="M21.70,-18.99 A11.05,11.05 0 1 0 21.70,-6.31 M32.25,0 V-24.4 M32.25,-15.35 A8.35,8.35 0 0 1 48.95,-15.35 V0 M48.95,-15.35 A8.25,8.25 0 0 1 65.45,-15.35 V0" fill="none" stroke="#000" stroke-width="3.2"/></g>
<g role="img" aria-label="15 cm" transform="translate(1636.75 669.02) rotate(-90)"><title>15cm</title><path transform="translate(0.00 0)" d="M0,-28.8 L5.6,-33.5 H12.8 V0 H5.6 V-25.6 L0,-22.4 Z" fill="#000" fill-rule="evenodd"/><path transform="translate(22.40 0)" d="M20.2,-30.7 H6.2 L5.3,-15.2" fill="none" stroke="#000" stroke-width="5.8"/><path transform="translate(22.40 0)" d="M5.45,-15.49 A7.3,7.3 0 1 1 4.75,-7.57" fill="none" stroke="#000" stroke-width="6.4"/><path transform="translate(48.00 0)" d="M21.70,-18.99 A11.05,11.05 0 1 0 21.70,-6.31 M32.25,0 V-24.4 M32.25,-15.35 A8.35,8.35 0 0 1 48.95,-15.35 V0 M48.95,-15.35 A8.25,8.25 0 0 1 65.45,-15.35 V0" fill="none" stroke="#000" stroke-width="3.2"/></g>
<polygon points="1273.0,729.0 1301.0,737.0 1417.0,667.0 1626.0,787.0 1626.0,837.0 1512.0,902.0 1512.0,929.0 1506.0,932.0 1273.0,797.0" fill="#000" fill-opacity="0.28" filter="url(#blur6)"/>
<polygon points="1267.0,722.0 1295.0,730.0 1411.0,660.0 1620.0,780.0 1620.0,830.0 1506.0,895.0 1506.0,922.0 1500.0,925.0 1267.0,790.0" fill="#fff" stroke="none"/>
<polyline points="1297.0,732.0 1411.0,667.0" fill="none" stroke="#7a7a7a" stroke-width="1.3" stroke-linecap="round" stroke-linejoin="round"/>
<polyline points="1411.0,667.0 1615.0,784.0" fill="none" stroke="#7a7a7a" stroke-width="1.3" stroke-linecap="round" stroke-linejoin="round"/>
<polyline points="1411.0,662.0 1411.0,709.0" fill="none" stroke="#7a7a7a" stroke-width="1.3" stroke-linecap="round" stroke-linejoin="round"/>
<polyline points="1336.0,752.0 1411.0,709.0 1572.0,802.0" fill="none" stroke="#646464" stroke-width="3.5" stroke-linecap="round" stroke-linejoin="round"/>
<polyline points="1270.0,726.0 1497.0,858.0 1497.0,922.0" fill="none" stroke="#8a8a8a" stroke-width="1.3" stroke-linecap="round" stroke-linejoin="round"/>
<polyline points="1504.0,843.0 1610.0,782.0" fill="none" stroke="#7a7a7a" stroke-width="1.2" stroke-linecap="round" stroke-linejoin="round"/>
<polyline points="1506.0,849.0 1616.0,786.0" fill="none" stroke="#646464" stroke-width="2.6" stroke-linecap="round" stroke-linejoin="round"/>
<polyline points="1506.0,868.0 1617.0,808.0" fill="none" stroke="#646464" stroke-width="2.4" stroke-linecap="round" stroke-linejoin="round"/>
<polyline points="1506.0,878.0 1617.0,817.0" fill="none" stroke="#7a7a7a" stroke-width="1.3" stroke-linecap="round" stroke-linejoin="round"/>
<polyline points="1572.0,802.0 1610.0,783.0" fill="none" stroke="#7a7a7a" stroke-width="1.3" stroke-linecap="round" stroke-linejoin="round"/>
<polyline points="1297.0,732.0 1504.0,852.0 1504.0,922.0" fill="none" stroke="#646464" stroke-width="4.5" stroke-linecap="round" stroke-linejoin="round"/>
<polyline points="1267.5,722.5 1295.0,730.0 1411.0,660.0 1620.0,780.0 1620.0,830.0 1506.0,895.0 1506.0,922.5 1500.0,925.0 1267.5,790.0 1267.5,722.5" fill="none" stroke="#646464" stroke-width="5.6" stroke-linecap="round" stroke-linejoin="round"/>
<polyline points="1274.0,706.0 1411.0,631.0 1610.0,739.0" fill="none" stroke="#e81923" stroke-width="5.6" stroke-linecap="butt" stroke-linejoin="round"/>
<polyline points="1469.0,701.0 1469.0,742.0" fill="none" stroke="#e81923" stroke-width="5.6" stroke-linecap="butt" stroke-linejoin="round"/>
<polyline points="1274.0,706.0 1274.0,718.0" fill="none" stroke="#111" stroke-width="1.4" stroke-linecap="butt" stroke-linejoin="round"/>
<polyline points="1411.0,631.0 1411.0,665.0" fill="none" stroke="#111" stroke-width="1.4" stroke-linecap="butt" stroke-linejoin="round"/>
<polyline points="1610.0,739.0 1610.0,782.0" fill="none" stroke="#111" stroke-width="1.4" stroke-linecap="butt" stroke-linejoin="round"/>
<g role="img" aria-label="33 cm" transform="translate(1283.42 693.78) rotate(-28)"><title>33cm</title><path transform="translate(0.00 0)" d="M4.02,-25.66 A6.4,6.4 0 1 1 10.20,-17.60 H6.8 M10.20,-17.60 H11.5 A7.45,7.45 0 1 1 4.59,-7.36" fill="none" stroke="#000" stroke-width="6.3"/><path transform="translate(25.80 0)" d="M4.02,-25.66 A6.4,6.4 0 1 1 10.20,-17.60 H6.8 M10.20,-17.60 H11.5 A7.45,7.45 0 1 1 4.59,-7.36" fill="none" stroke="#000" stroke-width="6.3"/><path transform="translate(52.00 0)" d="M21.70,-18.99 A11.05,11.05 0 1 0 21.70,-6.31 M32.25,0 V-24.4 M32.25,-15.35 A8.35,8.35 0 0 1 48.95,-15.35 V0 M48.95,-15.35 A8.25,8.25 0 0 1 65.45,-15.35 V0" fill="none" stroke="#000" stroke-width="3.2"/></g>
<g role="img" aria-label="66 cm" transform="translate(1472.27 657.42) rotate(29)"><title>66cm</title><path transform="translate(0.00 0)" d="M10.3,-3.15 A7.35,7.35 0 1 1 10.3,-17.85 A7.35,7.35 0 1 1 10.3,-3.15 Z" fill="none" stroke="#000" stroke-width="6.5"/><path transform="translate(0.00 0)" d="M3.6,-13.9 L14.0,-32.5" fill="none" stroke="#000" stroke-width="6.3"/><path transform="translate(24.40 0)" d="M10.3,-3.15 A7.35,7.35 0 1 1 10.3,-17.85 A7.35,7.35 0 1 1 10.3,-3.15 Z" fill="none" stroke="#000" stroke-width="6.5"/><path transform="translate(24.40 0)" d="M3.6,-13.9 L14.0,-32.5" fill="none" stroke="#000" stroke-width="6.3"/><path transform="translate(49.20 0)" d="M21.70,-18.99 A11.05,11.05 0 1 0 21.70,-6.31 M32.25,0 V-24.4 M32.25,-15.35 A8.35,8.35 0 0 1 48.95,-15.35 V0 M48.95,-15.35 A8.25,8.25 0 0 1 65.45,-15.35 V0" fill="none" stroke="#000" stroke-width="3.2"/></g>
<g role="img" aria-label="12 cm" transform="translate(1477.25 690.48) rotate(90)"><title>12cm</title><path transform="translate(0.00 0)" d="M0,-28.8 L5.6,-33.5 H12.8 V0 H5.6 V-25.6 L0,-22.4 Z" fill="#000" fill-rule="evenodd"/><path transform="translate(22.40 0)" d="M3.30,-22.58 A7.9,7.9 0 1 1 17.43,-17.44 L4.2,-4.5" fill="none" stroke="#000" stroke-width="6.5"/><path transform="translate(22.40 0)" d="M0,-6.6 H22.4 V0 H0 Z" fill="#000" fill-rule="evenodd"/><path transform="translate(49.00 0)" d="M21.70,-18.99 A11.05,11.05 0 1 0 21.70,-6.31 M32.25,0 V-24.4 M32.25,-15.35 A8.35,8.35 0 0 1 48.95,-15.35 V0 M48.95,-15.35 A8.25,8.25 0 0 1 65.45,-15.35 V0" fill="none" stroke="#000" stroke-width="3.2"/></g>
<polygon points="208.0,991.0 324.0,984.0 968.0,999.0 968.0,1154.0 874.0,1168.0 208.0,1137.0" fill="#000" fill-opacity="0.28" filter="url(#blur6)"/>
<polygon points="202.0,984.0 318.0,977.0 962.0,992.0 962.0,1147.0 868.0,1161.0 202.0,1130.0" fill="#fff" stroke="none"/>
<polyline points="207.5,986.0 207.5,1128.0" fill="none" stroke="#9a9a9a" stroke-width="1.3" stroke-linecap="round" stroke-linejoin="round"/>
<polyline points="210.0,1010.0 318.0,1002.5 620.0,1010.0 864.0,1017.0" fill="none" stroke="#7a7a7a" stroke-width="1.3" stroke-linecap="round" stroke-linejoin="round"/>
<polyline points="210.0,1017.0 864.0,1029.0" fill="none" stroke="#9a9a9a" stroke-width="1.2" stroke-linecap="round" stroke-linejoin="round"/>
<polyline points="210.0,1019.0 620.0,1031.0 864.0,1038.0" fill="none" stroke="#646464" stroke-width="3" stroke-linecap="round" stroke-linejoin="round"/>
<polyline points="318.8,1030.0 318.8,1110.0" fill="none" stroke="#5a5a5a" stroke-width="1.7" stroke-linecap="butt" stroke-linejoin="round" stroke-dasharray="8 9"/>
<polyline points="418.8,1028.0 418.8,1135.0" fill="none" stroke="#5a5a5a" stroke-width="1.7" stroke-linecap="butt" stroke-linejoin="round" stroke-dasharray="8 9"/>
<polyline points="526.0,1032.0 526.0,1120.0" fill="none" stroke="#5a5a5a" stroke-width="1.7" stroke-linecap="butt" stroke-linejoin="round" stroke-dasharray="8 9"/>
<polyline points="635.5,1033.0 635.5,1140.0" fill="none" stroke="#5a5a5a" stroke-width="1.7" stroke-linecap="butt" stroke-linejoin="round" stroke-dasharray="8 9"/>
<polyline points="742.0,1035.0 742.0,1130.0" fill="none" stroke="#5a5a5a" stroke-width="1.7" stroke-linecap="butt" stroke-linejoin="round" stroke-dasharray="8 9"/>
<polyline points="212.0,1116.0 318.0,1109.0 411.0,1114.0" fill="none" stroke="#5a5a5a" stroke-width="1.7" stroke-linecap="butt" stroke-linejoin="round" stroke-dasharray="8 9"/>
<polyline points="212.0,1121.0 411.0,1131.0" fill="none" stroke="#5a5a5a" stroke-width="1.7" stroke-linecap="butt" stroke-linejoin="round" stroke-dasharray="8 9"/>
<polyline points="419.0,1127.5 526.0,1121.0 628.0,1125.6" fill="none" stroke="#5a5a5a" stroke-width="1.7" stroke-linecap="butt" stroke-linejoin="round" stroke-dasharray="8 9"/>
<polyline points="419.0,1134.0 628.0,1138.0" fill="none" stroke="#5a5a5a" stroke-width="1.7" stroke-linecap="butt" stroke-linejoin="round" stroke-dasharray="8 9"/>
<polyline points="419.0,1140.0 628.0,1146.0" fill="none" stroke="#5a5a5a" stroke-width="1.7" stroke-linecap="butt" stroke-linejoin="round" stroke-dasharray="8 9"/>
<polyline points="742.0,1132.0 866.0,1138.0" fill="none" stroke="#5a5a5a" stroke-width="1.7" stroke-linecap="butt" stroke-linejoin="round" stroke-dasharray="8 9"/>
<polyline points="636.0,1142.0 866.0,1148.5" fill="none" stroke="#5a5a5a" stroke-width="1.7" stroke-linecap="butt" stroke-linejoin="round" stroke-dasharray="8 9"/>
<polyline points="636.0,1148.0 866.0,1155.0" fill="none" stroke="#5a5a5a" stroke-width="1.7" stroke-linecap="butt" stroke-linejoin="round" stroke-dasharray="8 9"/>
<polyline points="412.5,1026.0 412.5,1140.0" fill="none" stroke="#646464" stroke-width="3.2" stroke-linecap="round" stroke-linejoin="round"/>
<polyline points="629.7,1033.0 629.7,1149.0" fill="none" stroke="#646464" stroke-width="3.2" stroke-linecap="round" stroke-linejoin="round"/>
<polyline points="874.0,999.0 874.0,1161.0" fill="none" stroke="#7a7a7a" stroke-width="1.5" stroke-linecap="round" stroke-linejoin="round"/>
<polyline points="868.0,1001.0 962.0,993.0" fill="none" stroke="#646464" stroke-width="3.5" stroke-linecap="round" stroke-linejoin="round"/>
<polyline points="868.0,1001.0 868.0,1161.0" fill="none" stroke="#646464" stroke-width="3.2" stroke-linecap="round" stroke-linejoin="round"/>
<polyline points="202.5,984.0 318.0,977.5 962.0,992.0 962.0,1147.0 868.0,1161.0 202.5,1130.0 202.5,984.0" fill="none" stroke="#646464" stroke-width="5.6" stroke-linecap="round" stroke-linejoin="round"/>
<polyline points="286.0,982.5 286.0,1004.0" fill="none" stroke="#e81923" stroke-width="5.6" stroke-linecap="butt" stroke-linejoin="round"/>
<polyline points="210.0,1062.5 411.0,1071.0" fill="none" stroke="#e81923" stroke-width="5.6" stroke-linecap="butt" stroke-linejoin="round"/>
<polyline points="420.0,1071.0 628.0,1077.6" fill="none" stroke="#e81923" stroke-width="5.6" stroke-linecap="butt" stroke-linejoin="round"/>
<polyline points="596.0,1031.0 596.0,1135.0" fill="none" stroke="#e81923" stroke-width="5.6" stroke-linecap="butt" stroke-linejoin="round"/>
<polyline points="636.0,1079.0 865.0,1087.7" fill="none" stroke="#e81923" stroke-width="5.6" stroke-linecap="butt" stroke-linejoin="round"/>
<polyline points="636.0,1137.0 742.0,1131.0" fill="none" stroke="#e81923" stroke-width="5.6" stroke-linecap="butt" stroke-linejoin="round"/>
<polygon points="230.0,1134.0 251.0,1135.0 236.0,1200.0 227.5,1200.0" fill="#fff" stroke="#646464" stroke-width="3.8" stroke-linejoin="round"/>
<polygon points="311.0,1137.5 327.5,1138.0 317.5,1187.5 309.0,1187.5" fill="#fff" stroke="#646464" stroke-width="3.8" stroke-linejoin="round"/>
<polygon points="556.0,1150.0 575.0,1151.0 577.0,1212.0 568.0,1212.0" fill="#fff" stroke="#646464" stroke-width="3.8" stroke-linejoin="round"/>
<polygon points="849.0,1166.0 871.0,1166.0 876.6,1242.0 867.7,1242.0" fill="#fff" stroke="#646464" stroke-width="3.8" stroke-linejoin="round"/>
<polygon points="913.0,1157.0 934.0,1155.0 940.0,1227.0 932.0,1227.0" fill="#fff" stroke="#646464" stroke-width="3.8" stroke-linejoin="round"/>
<polyline points="202.0,934.0 874.0,946.0 962.0,936.0" fill="none" stroke="#e81923" stroke-width="5.6" stroke-linecap="butt" stroke-linejoin="round"/>
<polyline points="202.0,934.0 202.0,984.0" fill="none" stroke="#111" stroke-width="1.4" stroke-linecap="butt" stroke-linejoin="round"/>
<polyline points="874.6,946.0 874.6,1001.0" fill="none" stroke="#111" stroke-width="1.4" stroke-linecap="butt" stroke-linejoin="round"/>
<polyline points="962.7,936.0 962.7,992.0" fill="none" stroke="#111" stroke-width="1.4" stroke-linecap="butt" stroke-linejoin="round"/>
<polyline points="175.0,984.0 175.0,1128.0" fill="none" stroke="#e81923" stroke-width="5.6" stroke-linecap="butt" stroke-linejoin="round"/>
<polyline points="175.0,984.0 202.0,984.0" fill="none" stroke="#111" stroke-width="1.4" stroke-linecap="butt" stroke-linejoin="round"/>
<polyline points="175.0,1128.0 202.0,1130.0" fill="none" stroke="#111" stroke-width="1.4" stroke-linecap="butt" stroke-linejoin="round"/>
<polyline points="986.0,994.0 986.0,1229.5" fill="none" stroke="#e81923" stroke-width="5.6" stroke-linecap="butt" stroke-linejoin="round"/>
<polyline points="962.0,993.0 986.0,994.0" fill="none" stroke="#111" stroke-width="1.4" stroke-linecap="butt" stroke-linejoin="round"/>
<polyline points="940.0,1227.0 986.0,1229.5" fill="none" stroke="#111" stroke-width="1.4" stroke-linecap="butt" stroke-linejoin="round"/>
<polyline points="833.0,1165.0 833.0,1241.0" fill="none" stroke="#e81923" stroke-width="5.6" stroke-linecap="butt" stroke-linejoin="round"/>
<polyline points="833.0,1241.0 870.0,1243.0" fill="none" stroke="#111" stroke-width="1.4" stroke-linecap="butt" stroke-linejoin="round"/>
<g role="img" aria-label="150 cm" transform="translate(476.07 933.25) rotate(0)"><title>150cm</title><path transform="translate(0.00 0)" d="M0,-28.8 L5.6,-33.5 H12.8 V0 H5.6 V-25.6 L0,-22.4 Z" fill="#000" fill-rule="evenodd"/><path transform="translate(22.40 0)" d="M20.2,-30.7 H6.2 L5.3,-15.2" fill="none" stroke="#000" stroke-width="5.8"/><path transform="translate(22.40 0)" d="M5.45,-15.49 A7.3,7.3 0 1 1 4.75,-7.57" fill="none" stroke="#000" stroke-width="6.4"/><path transform="translate(47.60 0)" d="M11,-3.25 A7.7,13.5 0 1 1 11,-30.25 A7.7,13.5 0 1 1 11,-3.25 Z" fill="none" stroke="#000" stroke-width="6.6"/><path transform="translate(73.80 0)" d="M21.70,-18.99 A11.05,11.05 0 1 0 21.70,-6.31 M32.25,0 V-24.4 M32.25,-15.35 A8.35,8.35 0 0 1 48.95,-15.35 V0 M48.95,-15.35 A8.25,8.25 0 0 1 65.45,-15.35 V0" fill="none" stroke="#000" stroke-width="3.2"/></g>
<g role="img" aria-label="41 cm" transform="translate(851.32 936.47) rotate(-5)"><title>41cm</title><path transform="translate(0.00 0)" d="M14.9,-33.5 H20.6 V-12.6 H23.4 V-7.2 H20.6 V0 H14.9 V-7.2 H0 V-12.6 Z M14.9,-22.6 L7.6,-12.6 H14.9 Z" fill="#000" fill-rule="evenodd"/><path transform="translate(29.00 0)" d="M0,-28.8 L5.6,-33.5 H12.8 V0 H5.6 V-25.6 L0,-22.4 Z" fill="#000" fill-rule="evenodd"/><path transform="translate(52.30 0)" d="M21.70,-18.99 A11.05,11.05 0 1 0 21.70,-6.31 M32.25,0 V-24.4 M32.25,-15.35 A8.35,8.35 0 0 1 48.95,-15.35 V0 M48.95,-15.35 A8.25,8.25 0 0 1 65.45,-15.35 V0" fill="none" stroke="#000" stroke-width="3.2"/></g>
<g role="img" aria-label="5 cm" transform="translate(293.25 950.67) rotate(90)"><title>5cm</title><path transform="translate(0.00 0)" d="M20.2,-30.7 H6.2 L5.3,-15.2" fill="none" stroke="#000" stroke-width="5.8"/><path transform="translate(0.00 0)" d="M5.45,-15.49 A7.3,7.3 0 1 1 4.75,-7.57" fill="none" stroke="#000" stroke-width="6.4"/><path transform="translate(25.60 0)" d="M21.70,-18.99 A11.05,11.05 0 1 0 21.70,-6.31 M32.25,0 V-24.4 M32.25,-15.35 A8.35,8.35 0 0 1 48.95,-15.35 V0 M48.95,-15.35 A8.25,8.25 0 0 1 65.45,-15.35 V0" fill="none" stroke="#000" stroke-width="3.2"/></g>
<g role="img" aria-label="30 cm" transform="translate(164.25 1113.53) rotate(-90)"><title>30cm</title><path transform="translate(0.00 0)" d="M4.02,-25.66 A6.4,6.4 0 1 1 10.20,-17.60 H6.8 M10.20,-17.60 H11.5 A7.45,7.45 0 1 1 4.59,-7.36" fill="none" stroke="#000" stroke-width="6.3"/><path transform="translate(25.80 0)" d="M11,-3.25 A7.7,13.5 0 1 1 11,-30.25 A7.7,13.5 0 1 1 11,-3.25 Z" fill="none" stroke="#000" stroke-width="6.6"/><path transform="translate(52.00 0)" d="M21.70,-18.99 A11.05,11.05 0 1 0 21.70,-6.31 M32.25,0 V-24.4 M32.25,-15.35 A8.35,8.35 0 0 1 48.95,-15.35 V0 M48.95,-15.35 A8.25,8.25 0 0 1 65.45,-15.35 V0" fill="none" stroke="#000" stroke-width="3.2"/></g>
<g role="img" aria-label="48 cm" transform="translate(246.97 1103.75) rotate(0)"><title>48cm</title><path transform="translate(0.00 0)" d="M14.9,-33.5 H20.6 V-12.6 H23.4 V-7.2 H20.6 V0 H14.9 V-7.2 H0 V-12.6 Z M14.9,-22.6 L7.6,-12.6 H14.9 Z" fill="#000" fill-rule="evenodd"/><path transform="translate(27.20 0)" d="M11.3,-30.6 A6.8,6.6 0 1 1 11.3,-17.4 A6.8,6.6 0 1 1 11.3,-30.6 Z" fill="none" stroke="#000" stroke-width="5.8"/><path transform="translate(27.20 0)" d="M11.3,-16.8 A8.3,6.9 0 1 1 11.3,-3.0 A8.3,6.9 0 1 1 11.3,-16.8 Z" fill="none" stroke="#000" stroke-width="6.0"/><path transform="translate(54.00 0)" d="M21.70,-18.99 A11.05,11.05 0 1 0 21.70,-6.31 M32.25,0 V-24.4 M32.25,-15.35 A8.35,8.35 0 0 1 48.95,-15.35 V0 M48.95,-15.35 A8.25,8.25 0 0 1 65.45,-15.35 V0" fill="none" stroke="#000" stroke-width="3.2"/></g>
<g role="img" aria-label="47 cm" transform="translate(432.52 1069.75) rotate(0)"><title>47cm</title><path transform="translate(0.00 0)" d="M14.9,-33.5 H20.6 V-12.6 H23.4 V-7.2 H20.6 V0 H14.9 V-7.2 H0 V-12.6 Z M14.9,-22.6 L7.6,-12.6 H14.9 Z" fill="#000" fill-rule="evenodd"/><path transform="translate(27.20 0)" d="M0,-33.5 H21.5 V-28.2 L10.4,0 H2.3 L13.6,-28.0 H0 Z" fill="#000" fill-rule="evenodd"/><path transform="translate(52.90 0)" d="M21.70,-18.99 A11.05,11.05 0 1 0 21.70,-6.31 M32.25,0 V-24.4 M32.25,-15.35 A8.35,8.35 0 0 1 48.95,-15.35 V0 M48.95,-15.35 A8.25,8.25 0 0 1 65.45,-15.35 V0" fill="none" stroke="#000" stroke-width="3.2"/></g>
<g role="img" aria-label="21 cm" transform="translate(588.75 1206.67) rotate(-90)"><title>21cm</title><path transform="translate(0.00 0)" d="M3.30,-22.58 A7.9,7.9 0 1 1 17.43,-17.44 L4.2,-4.5" fill="none" stroke="#000" stroke-width="6.5"/><path transform="translate(0.00 0)" d="M0,-6.6 H22.4 V0 H0 Z" fill="#000" fill-rule="evenodd"/><path transform="translate(28.00 0)" d="M0,-28.8 L5.6,-33.5 H12.8 V0 H5.6 V-25.6 L0,-22.4 Z" fill="#000" fill-rule="evenodd"/><path transform="translate(51.30 0)" d="M21.70,-18.99 A11.05,11.05 0 1 0 21.70,-6.31 M32.25,0 V-24.4 M32.25,-15.35 A8.35,8.35 0 0 1 48.95,-15.35 V0 M48.95,-15.35 A8.25,8.25 0 0 1 65.45,-15.35 V0" fill="none" stroke="#000" stroke-width="3.2"/></g>
<g role="img" aria-label="48 cm" transform="translate(689.98 1075.75) rotate(0)"><title>48cm</title><path transform="translate(0.00 0)" d="M14.9,-33.5 H20.6 V-12.6 H23.4 V-7.2 H20.6 V0 H14.9 V-7.2 H0 V-12.6 Z M14.9,-22.6 L7.6,-12.6 H14.9 Z" fill="#000" fill-rule="evenodd"/><path transform="translate(27.20 0)" d="M11.3,-30.6 A6.8,6.6 0 1 1 11.3,-17.4 A6.8,6.6 0 1 1 11.3,-30.6 Z" fill="none" stroke="#000" stroke-width="5.8"/><path transform="translate(27.20 0)" d="M11.3,-16.8 A8.3,6.9 0 1 1 11.3,-3.0 A8.3,6.9 0 1 1 11.3,-16.8 Z" fill="none" stroke="#000" stroke-width="6.0"/><path transform="translate(54.00 0)" d="M21.70,-18.99 A11.05,11.05 0 1 0 21.70,-6.31 M32.25,0 V-24.4 M32.25,-15.35 A8.35,8.35 0 0 1 48.95,-15.35 V0 M48.95,-15.35 A8.25,8.25 0 0 1 65.45,-15.35 V0" fill="none" stroke="#000" stroke-width="3.2"/></g>
<g role="img" aria-label="35 cm" transform="translate(637.27 1129.00) rotate(0)"><title>35cm</title><path transform="translate(0.00 0)" d="M4.02,-25.66 A6.4,6.4 0 1 1 10.20,-17.60 H6.8 M10.20,-17.60 H11.5 A7.45,7.45 0 1 1 4.59,-7.36" fill="none" stroke="#000" stroke-width="6.3"/><path transform="translate(25.80 0)" d="M20.2,-30.7 H6.2 L5.3,-15.2" fill="none" stroke="#000" stroke-width="5.8"/><path transform="translate(25.80 0)" d="M5.45,-15.49 A7.3,7.3 0 1 1 4.75,-7.57" fill="none" stroke="#000" stroke-width="6.4"/><path transform="translate(51.40 0)" d="M21.70,-18.99 A11.05,11.05 0 1 0 21.70,-6.31 M32.25,0 V-24.4 M32.25,-15.35 A8.35,8.35 0 0 1 48.95,-15.35 V0 M48.95,-15.35 A8.25,8.25 0 0 1 65.45,-15.35 V0" fill="none" stroke="#000" stroke-width="3.2"/></g>
<g role="img" aria-label="15 cm" transform="translate(822.25 1254.03) rotate(-90)"><title>15cm</title><path transform="translate(0.00 0)" d="M0,-28.8 L5.6,-33.5 H12.8 V0 H5.6 V-25.6 L0,-22.4 Z" fill="#000" fill-rule="evenodd"/><path transform="translate(22.40 0)" d="M20.2,-30.7 H6.2 L5.3,-15.2" fill="none" stroke="#000" stroke-width="5.8"/><path transform="translate(22.40 0)" d="M5.45,-15.49 A7.3,7.3 0 1 1 4.75,-7.57" fill="none" stroke="#000" stroke-width="6.4"/><path transform="translate(48.00 0)" d="M21.70,-18.99 A11.05,11.05 0 1 0 21.70,-6.31 M32.25,0 V-24.4 M32.25,-15.35 A8.35,8.35 0 0 1 48.95,-15.35 V0 M48.95,-15.35 A8.25,8.25 0 0 1 65.45,-15.35 V0" fill="none" stroke="#000" stroke-width="3.2"/></g>
<g role="img" aria-label="45 cm" transform="translate(995.35 1046.08) rotate(90)"><title>45cm</title><path transform="translate(0.00 0)" d="M14.9,-33.5 H20.6 V-12.6 H23.4 V-7.2 H20.6 V0 H14.9 V-7.2 H0 V-12.6 Z M14.9,-22.6 L7.6,-12.6 H14.9 Z" fill="#000" fill-rule="evenodd"/><path transform="translate(27.20 0)" d="M20.2,-30.7 H6.2 L5.3,-15.2" fill="none" stroke="#000" stroke-width="5.8"/><path transform="translate(27.20 0)" d="M5.45,-15.49 A7.3,7.3 0 1 1 4.75,-7.57" fill="none" stroke="#000" stroke-width="6.4"/><path transform="translate(52.80 0)" d="M21.70,-18.99 A11.05,11.05 0 1 0 21.70,-6.31 M32.25,0 V-24.4 M32.25,-15.35 A8.35,8.35 0 0 1 48.95,-15.35 V0 M48.95,-15.35 A8.25,8.25 0 0 1 65.45,-15.35 V0" fill="none" stroke="#000" stroke-width="3.2"/></g>
<polygon points="1114.0,1116.0 1308.0,1096.0 1308.0,1123.0 1642.0,1139.0 1795.0,1117.0 1795.0,1292.0 1637.0,1332.0 1115.0,1293.0" fill="#000" fill-opacity="0.28" filter="url(#blur6)"/>
<polygon points="1108.0,1109.0 1302.0,1089.0 1302.0,1116.0 1636.0,1132.0 1789.0,1110.0 1789.0,1285.0 1631.0,1325.0 1109.0,1286.0" fill="#fff" stroke="none"/>
<polyline points="1119.0,1115.0 1119.0,1280.0" fill="none" stroke="#9a9a9a" stroke-width="1.3" stroke-linecap="round" stroke-linejoin="round"/>
<polyline points="1118.0,1140.0 1300.0,1118.0" fill="none" stroke="#646464" stroke-width="3" stroke-linecap="round" stroke-linejoin="round"/>
<polyline points="1118.0,1139.0 1118.0,1151.0" fill="none" stroke="#646464" stroke-width="3" stroke-linecap="round" stroke-linejoin="round"/>
<polyline points="1120.0,1141.0 1624.0,1165.0" fill="none" stroke="#7a7a7a" stroke-width="1.4" stroke-linecap="round" stroke-linejoin="round"/>
<polyline points="1118.0,1150.0 1440.0,1168.0 1624.0,1176.0" fill="none" stroke="#646464" stroke-width="3" stroke-linecap="round" stroke-linejoin="round"/>
<polyline points="1206.0,1157.0 1206.0,1260.0" fill="none" stroke="#7a7a7a" stroke-width="1.3" stroke-linecap="round" stroke-linejoin="round"/>
<polyline points="1206.0,1260.0 1360.0,1270.0" fill="none" stroke="#7a7a7a" stroke-width="1.3" stroke-linecap="round" stroke-linejoin="round"/>
<polyline points="1125.0,1276.0 1360.0,1292.0" fill="none" stroke="#7a7a7a" stroke-width="1.3" stroke-linecap="round" stroke-linejoin="round"/>
<polyline points="1368.0,1165.0 1368.0,1290.0" fill="none" stroke="#5a5a5a" stroke-width="1.7" stroke-linecap="butt" stroke-linejoin="round" stroke-dasharray="8 9"/>
<polyline points="1489.5,1170.0 1489.5,1280.0" fill="none" stroke="#5a5a5a" stroke-width="1.7" stroke-linecap="butt" stroke-linejoin="round" stroke-dasharray="8 9"/>
<polyline points="1368.0,1292.0 1489.5,1280.0 1617.0,1290.0" fill="none" stroke="#5a5a5a" stroke-width="1.7" stroke-linecap="butt" stroke-linejoin="round" stroke-dasharray="8 9"/>
<polyline points="1368.0,1299.0 1625.0,1312.0" fill="none" stroke="#5a5a5a" stroke-width="1.7" stroke-linecap="butt" stroke-linejoin="round" stroke-dasharray="8 9"/>
<polyline points="1368.0,1306.0 1625.0,1320.0" fill="none" stroke="#5a5a5a" stroke-width="1.7" stroke-linecap="butt" stroke-linejoin="round" stroke-dasharray="8 9"/>
<polyline points="1360.0,1165.0 1360.0,1302.0" fill="none" stroke="#646464" stroke-width="3" stroke-linecap="round" stroke-linejoin="round"/>
<polyline points="1635.0,1135.0 1635.0,1325.0" fill="none" stroke="#7a7a7a" stroke-width="1.8" stroke-linecap="round" stroke-linejoin="round"/>
<polyline points="1626.0,1135.0 1626.0,1322.0" fill="none" stroke="#646464" stroke-width="3" stroke-linecap="round" stroke-linejoin="round"/>
<polyline points="1108.5,1109.0 1302.0,1089.0 1302.0,1116.0 1636.0,1132.0 1788.5,1110.0 1788.5,1285.0 1632.0,1325.0 1109.0,1286.0 1108.5,1109.0" fill="none" stroke="#646464" stroke-width="5.6" stroke-linecap="round" stroke-linejoin="round"/>
<polyline points="1220.0,1100.0 1220.0,1127.0" fill="none" stroke="#e81923" stroke-width="5.6" stroke-linecap="butt" stroke-linejoin="round"/>
<polyline points="1120.0,1201.0 1360.0,1215.0" fill="none" stroke="#e81923" stroke-width="5.6" stroke-linecap="butt" stroke-linejoin="round"/>
<polyline points="1328.0,1162.0 1328.0,1289.0" fill="none" stroke="#e81923" stroke-width="5.6" stroke-linecap="butt" stroke-linejoin="round"/>
<polyline points="1125.0,1275.0 1206.0,1259.0" fill="none" stroke="#e81923" stroke-width="5.6" stroke-linecap="butt" stroke-linejoin="round"/>
<polyline points="1368.0,1216.0 1624.0,1232.5" fill="none" stroke="#e81923" stroke-width="5.6" stroke-linecap="butt" stroke-linejoin="round"/>
<polygon points="1147.0,1288.0 1171.5,1289.0 1153.6,1369.0 1144.0,1369.0" fill="#fff" stroke="#646464" stroke-width="3.8" stroke-linejoin="round"/>
<polygon points="1294.0,1300.0 1309.0,1301.0 1299.0,1335.0 1291.0,1335.0" fill="#fff" stroke="#646464" stroke-width="3.8" stroke-linejoin="round"/>
<polygon points="1606.0,1325.0 1631.0,1326.0 1636.0,1412.0 1627.0,1412.0" fill="#fff" stroke="#646464" stroke-width="3.8" stroke-linejoin="round"/>
<polygon points="1736.0,1297.5 1757.5,1294.0 1763.6,1374.0 1752.6,1374.0" fill="#fff" stroke="#646464" stroke-width="3.8" stroke-linejoin="round"/>
<polyline points="1110.0,1047.5 1636.0,1069.5 1791.0,1045.0" fill="none" stroke="#e81923" stroke-width="5.6" stroke-linecap="butt" stroke-linejoin="round"/>
<polyline points="1110.0,1047.5 1110.0,1108.0" fill="none" stroke="#111" stroke-width="1.4" stroke-linecap="butt" stroke-linejoin="round"/>
<polyline points="1636.0,1069.5 1636.0,1132.0" fill="none" stroke="#111" stroke-width="1.4" stroke-linecap="butt" stroke-linejoin="round"/>
<polyline points="1791.0,1045.0 1791.0,1108.0" fill="none" stroke="#111" stroke-width="1.4" stroke-linecap="butt" stroke-linejoin="round"/>
<polyline points="1078.0,1109.0 1078.0,1284.0" fill="none" stroke="#e81923" stroke-width="5.6" stroke-linecap="butt" stroke-linejoin="round"/>
<polyline points="1078.0,1109.0 1108.0,1109.0" fill="none" stroke="#111" stroke-width="1.4" stroke-linecap="butt" stroke-linejoin="round"/>
<polyline points="1078.0,1284.0 1108.0,1286.0" fill="none" stroke="#111" stroke-width="1.4" stroke-linecap="butt" stroke-linejoin="round"/>
<polyline points="1830.5,1110.0 1830.5,1378.0" fill="none" stroke="#e81923" stroke-width="5.6" stroke-linecap="butt" stroke-linejoin="round"/>
<polyline points="1789.0,1108.0 1830.0,1110.0" fill="none" stroke="#111" stroke-width="1.4" stroke-linecap="butt" stroke-linejoin="round"/>
<polyline points="1763.0,1374.0 1830.0,1378.0" fill="none" stroke="#111" stroke-width="1.4" stroke-linecap="butt" stroke-linejoin="round"/>
<polyline points="1587.0,1324.0 1587.0,1409.0" fill="none" stroke="#e81923" stroke-width="5.6" stroke-linecap="butt" stroke-linejoin="round"/>
<polyline points="1587.0,1409.0 1630.0,1411.0" fill="none" stroke="#111" stroke-width="1.4" stroke-linecap="butt" stroke-linejoin="round"/>
<g role="img" aria-label="100 cm" transform="translate(1336.78 1049.55) rotate(0)"><title>100cm</title><path transform="translate(0.00 0)" d="M0,-28.8 L5.6,-33.5 H12.8 V0 H5.6 V-25.6 L0,-22.4 Z" fill="#000" fill-rule="evenodd"/><path transform="translate(22.40 0)" d="M11,-3.25 A7.7,13.5 0 1 1 11,-30.25 A7.7,13.5 0 1 1 11,-3.25 Z" fill="none" stroke="#000" stroke-width="6.6"/><path transform="translate(48.20 0)" d="M11,-3.25 A7.7,13.5 0 1 1 11,-30.25 A7.7,13.5 0 1 1 11,-3.25 Z" fill="none" stroke="#000" stroke-width="6.6"/><path transform="translate(74.40 0)" d="M21.70,-18.99 A11.05,11.05 0 1 0 21.70,-6.31 M32.25,0 V-24.4 M32.25,-15.35 A8.35,8.35 0 0 1 48.95,-15.35 V0 M48.95,-15.35 A8.25,8.25 0 0 1 65.45,-15.35 V0" fill="none" stroke="#000" stroke-width="3.2"/></g>
<g role="img" aria-label="60 cm" transform="translate(1650.17 1058.97) rotate(-9)"><title>60cm</title><path transform="translate(0.00 0)" d="M10.3,-3.15 A7.35,7.35 0 1 1 10.3,-17.85 A7.35,7.35 0 1 1 10.3,-3.15 Z" fill="none" stroke="#000" stroke-width="6.5"/><path transform="translate(0.00 0)" d="M3.6,-13.9 L14.0,-32.5" fill="none" stroke="#000" stroke-width="6.3"/><path transform="translate(24.40 0)" d="M11,-3.25 A7.7,13.5 0 1 1 11,-30.25 A7.7,13.5 0 1 1 11,-3.25 Z" fill="none" stroke="#000" stroke-width="6.6"/><path transform="translate(50.60 0)" d="M21.70,-18.99 A11.05,11.05 0 1 0 21.70,-6.31 M32.25,0 V-24.4 M32.25,-15.35 A8.35,8.35 0 0 1 48.95,-15.35 V0 M48.95,-15.35 A8.25,8.25 0 0 1 65.45,-15.35 V0" fill="none" stroke="#000" stroke-width="3.2"/></g>
<g role="img" aria-label="5 cm" transform="translate(1226.25 1060.17) rotate(90)"><title>5cm</title><path transform="translate(0.00 0)" d="M20.2,-30.7 H6.2 L5.3,-15.2" fill="none" stroke="#000" stroke-width="5.8"/><path transform="translate(0.00 0)" d="M5.45,-15.49 A7.3,7.3 0 1 1 4.75,-7.57" fill="none" stroke="#000" stroke-width="6.4"/><path transform="translate(25.60 0)" d="M21.70,-18.99 A11.05,11.05 0 1 0 21.70,-6.31 M32.25,0 V-24.4 M32.25,-15.35 A8.35,8.35 0 0 1 48.95,-15.35 V0 M48.95,-15.35 A8.25,8.25 0 0 1 65.45,-15.35 V0" fill="none" stroke="#000" stroke-width="3.2"/></g>
<g role="img" aria-label="30 cm" transform="translate(1072.25 1259.03) rotate(-90)"><title>30cm</title><path transform="translate(0.00 0)" d="M4.02,-25.66 A6.4,6.4 0 1 1 10.20,-17.60 H6.8 M10.20,-17.60 H11.5 A7.45,7.45 0 1 1 4.59,-7.36" fill="none" stroke="#000" stroke-width="6.3"/><path transform="translate(25.80 0)" d="M11,-3.25 A7.7,13.5 0 1 1 11,-30.25 A7.7,13.5 0 1 1 11,-3.25 Z" fill="none" stroke="#000" stroke-width="6.6"/><path transform="translate(52.00 0)" d="M21.70,-18.99 A11.05,11.05 0 1 0 21.70,-6.31 M32.25,0 V-24.4 M32.25,-15.35 A8.35,8.35 0 0 1 48.95,-15.35 V0 M48.95,-15.35 A8.25,8.25 0 0 1 65.45,-15.35 V0" fill="none" stroke="#000" stroke-width="3.2"/></g>
<g role="img" aria-label="47 cm" transform="translate(1154.03 1200.25) rotate(0)"><title>47cm</title><path transform="translate(0.00 0)" d="M14.9,-33.5 H20.6 V-12.6 H23.4 V-7.2 H20.6 V0 H14.9 V-7.2 H0 V-12.6 Z M14.9,-22.6 L7.6,-12.6 H14.9 Z" fill="#000" fill-rule="evenodd"/><path transform="translate(27.20 0)" d="M0,-33.5 H21.5 V-28.2 L10.4,0 H2.3 L13.6,-28.0 H0 Z" fill="#000" fill-rule="evenodd"/><path transform="translate(52.90 0)" d="M21.70,-18.99 A11.05,11.05 0 1 0 21.70,-6.31 M32.25,0 V-24.4 M32.25,-15.35 A8.35,8.35 0 0 1 48.95,-15.35 V0 M48.95,-15.35 A8.25,8.25 0 0 1 65.45,-15.35 V0" fill="none" stroke="#000" stroke-width="3.2"/></g>
<g role="img" aria-label="26 cm" transform="translate(1120.98 1267.01) rotate(-12.5)"><title>26cm</title><path transform="translate(0.00 0)" d="M3.30,-22.58 A7.9,7.9 0 1 1 17.43,-17.44 L4.2,-4.5" fill="none" stroke="#000" stroke-width="6.5"/><path transform="translate(0.00 0)" d="M0,-6.6 H22.4 V0 H0 Z" fill="#000" fill-rule="evenodd"/><path transform="translate(26.20 0)" d="M10.3,-3.15 A7.35,7.35 0 1 1 10.3,-17.85 A7.35,7.35 0 1 1 10.3,-3.15 Z" fill="none" stroke="#000" stroke-width="6.5"/><path transform="translate(26.20 0)" d="M3.6,-13.9 L14.0,-32.5" fill="none" stroke="#000" stroke-width="6.3"/><path transform="translate(51.00 0)" d="M21.70,-18.99 A11.05,11.05 0 1 0 21.70,-6.31 M32.25,0 V-24.4 M32.25,-15.35 A8.35,8.35 0 0 1 48.95,-15.35 V0 M48.95,-15.35 A8.25,8.25 0 0 1 65.45,-15.35 V0" fill="none" stroke="#000" stroke-width="3.2"/></g>
<g role="img" aria-label="21 cm" transform="translate(1334.75 1221.12) rotate(90)"><title>21cm</title><path transform="translate(0.00 0)" d="M3.30,-22.58 A7.9,7.9 0 1 1 17.43,-17.44 L4.2,-4.5" fill="none" stroke="#000" stroke-width="6.5"/><path transform="translate(0.00 0)" d="M0,-6.6 H22.4 V0 H0 Z" fill="#000" fill-rule="evenodd"/><path transform="translate(28.00 0)" d="M0,-28.8 L5.6,-33.5 H12.8 V0 H5.6 V-25.6 L0,-22.4 Z" fill="#000" fill-rule="evenodd"/><path transform="translate(51.30 0)" d="M21.70,-18.99 A11.05,11.05 0 1 0 21.70,-6.31 M32.25,0 V-24.4 M32.25,-15.35 A8.35,8.35 0 0 1 48.95,-15.35 V0 M48.95,-15.35 A8.25,8.25 0 0 1 65.45,-15.35 V0" fill="none" stroke="#000" stroke-width="3.2"/></g>
<g role="img" aria-label="47 cm" transform="translate(1437.53 1217.50) rotate(0)"><title>47cm</title><path transform="translate(0.00 0)" d="M14.9,-33.5 H20.6 V-12.6 H23.4 V-7.2 H20.6 V0 H14.9 V-7.2 H0 V-12.6 Z M14.9,-22.6 L7.6,-12.6 H14.9 Z" fill="#000" fill-rule="evenodd"/><path transform="translate(27.20 0)" d="M0,-33.5 H21.5 V-28.2 L10.4,0 H2.3 L13.6,-28.0 H0 Z" fill="#000" fill-rule="evenodd"/><path transform="translate(52.90 0)" d="M21.70,-18.99 A11.05,11.05 0 1 0 21.70,-6.31 M32.25,0 V-24.4 M32.25,-15.35 A8.35,8.35 0 0 1 48.95,-15.35 V0 M48.95,-15.35 A8.25,8.25 0 0 1 65.45,-15.35 V0" fill="none" stroke="#000" stroke-width="3.2"/></g>
<g role="img" aria-label="45 cm" transform="translate(1836.75 1198.33) rotate(90)"><title>45cm</title><path transform="translate(0.00 0)" d="M14.9,-33.5 H20.6 V-12.6 H23.4 V-7.2 H20.6 V0 H14.9 V-7.2 H0 V-12.6 Z M14.9,-22.6 L7.6,-12.6 H14.9 Z" fill="#000" fill-rule="evenodd"/><path transform="translate(27.20 0)" d="M20.2,-30.7 H6.2 L5.3,-15.2" fill="none" stroke="#000" stroke-width="5.8"/><path transform="translate(27.20 0)" d="M5.45,-15.49 A7.3,7.3 0 1 1 4.75,-7.57" fill="none" stroke="#000" stroke-width="6.4"/><path transform="translate(52.80 0)" d="M21.70,-18.99 A11.05,11.05 0 1 0 21.70,-6.31 M32.25,0 V-24.4 M32.25,-15.35 A8.35,8.35 0 0 1 48.95,-15.35 V0 M48.95,-15.35 A8.25,8.25 0 0 1 65.45,-15.35 V0" fill="none" stroke="#000" stroke-width="3.2"/></g>
<g role="img" aria-label="15 cm" transform="translate(1573.75 1416.03) rotate(-90)"><title>15cm</title><path transform="translate(0.00 0)" d="M0,-28.8 L5.6,-33.5 H12.8 V0 H5.6 V-25.6 L0,-22.4 Z" fill="#000" fill-rule="evenodd"/><path transform="translate(22.40 0)" d="M20.2,-30.7 H6.2 L5.3,-15.2" fill="none" stroke="#000" stroke-width="5.8"/><path transform="translate(22.40 0)" d="M5.45,-15.49 A7.3,7.3 0 1 1 4.75,-7.57" fill="none" stroke="#000" stroke-width="6.4"/><path transform="translate(48.00 0)" d="M21.70,-18.99 A11.05,11.05 0 1 0 21.70,-6.31 M32.25,0 V-24.4 M32.25,-15.35 A8.35,8.35 0 0 1 48.95,-15.35 V0 M48.95,-15.35 A8.25,8.25 0 0 1 65.45,-15.35 V0" fill="none" stroke="#000" stroke-width="3.2"/></g>
</svg></body></html>
